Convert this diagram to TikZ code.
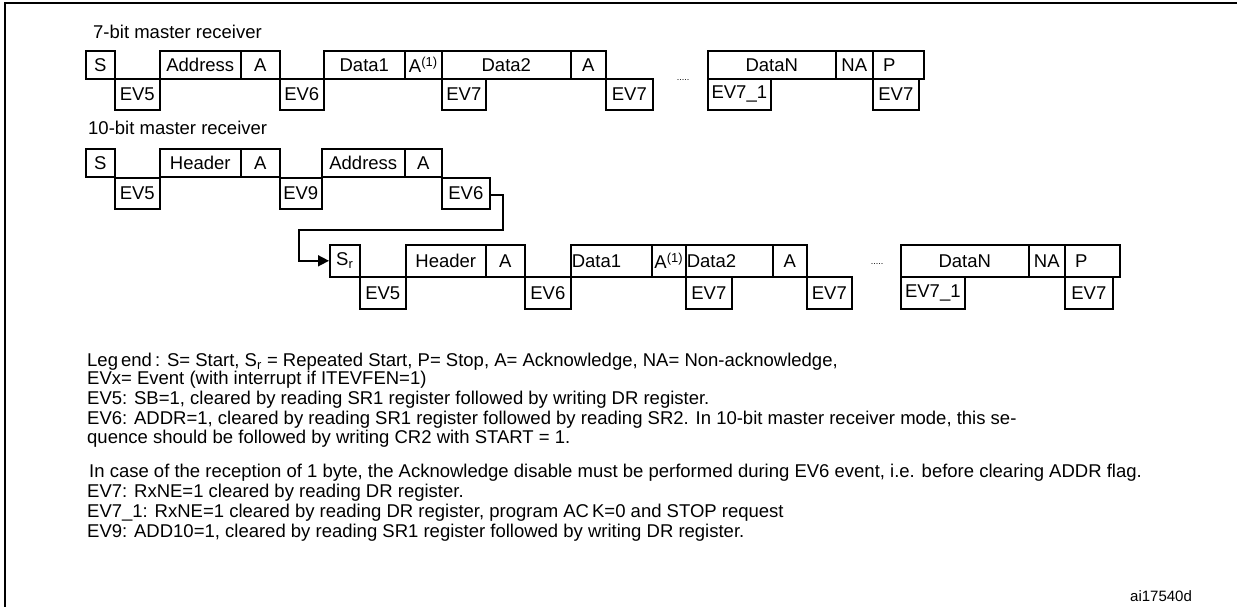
\documentclass[tikz,border=0pt]{standalone}
\usepackage{fontspec}
\setmainfont{Liberation Sans}
\usetikzlibrary{arrows.meta}

\begin{document}
\begin{tikzpicture}[x=1pt, y=-1pt, font=\fontsize{18.5}{20}\selectfont,
    fld/.style={draw, line width=1.6pt, anchor=north west, inner sep=0pt},
    hi/.style={fld, minimum height=28pt},
    lo/.style={fld, minimum height=31pt},
    txt/.style={anchor=west, inner sep=0pt}]
    \useasboundingbox (0,0) rectangle (1237,607);
    \draw[line width=1.6pt] (5,607) -- (5,3) -- (1237,3);
    % 7-bit master receiver
    \node[txt] (t1) at (93,32) {7-bit master receiver};
    \node[hi, minimum width=29pt] (s1) at (85,50) {S};
    \node[lo, minimum width=45pt] (ev5a) at (114,78) {EV5};
    \node[hi, minimum width=81pt] (adr1) at (159,50) {Address};
    \node[hi, minimum width=39pt] (ak1) at (240,50) {A};
    \node[lo, minimum width=44pt] (ev6a) at (279,78) {EV6};
    \node[hi, minimum width=81pt] (d1a) at (323,50) {Data1};
    \node[hi, minimum width=37pt] (ak2) at (404,50) {A\textsuperscript{(1)}};
    \node[hi, minimum width=129pt] (d2a) at (441,50) {Data2};
    \node[lo, minimum width=44pt] (ev7a) at (441,78) {EV7};
    \node[hi, minimum width=35pt] (ak3) at (570,50) {A};
    \node[lo, minimum width=47pt] (ev7b) at (605,78) {EV7};
    \node[inner sep=0pt, font=\small] (dots1) at (683,80) {.....};
    \node[hi, minimum width=128pt] (dna) at (707,50) {DataN};
    \node[hi, minimum width=37pt] (na1) at (835,50) {NA};
    \node[hi, minimum width=51pt] (p1) at (872,50) {\hspace*{-18pt}P};
    \node[lo, minimum width=63pt] (ev71a) at (707,78) {EV7\_1};
    \node[lo, minimum width=46pt] (ev7c) at (872,78) {EV7};
    % 10-bit master receiver
    \node[txt] (t2) at (88,128) {10-bit master receiver};
    \node[hi, minimum width=29pt] (s2) at (85,148) {S};
    \node[lo, minimum width=45pt] (ev5b) at (114,177) {EV5};
    \node[hi, minimum width=81pt] (hd1) at (159,148) {Header};
    \node[hi, minimum width=39pt] (ak4) at (240,148) {A};
    \node[lo, minimum width=42pt] (ev9) at (279,177) {EV9};
    \node[hi, minimum width=83pt] (adr2) at (321,148) {Address};
    \node[hi, minimum width=37pt] (ak5) at (404,148) {A};
    \node[lo, minimum width=48pt] (ev6b) at (441,177) {EV6};
    \node[hi, minimum width=30pt, minimum height=32pt] (sr) at (329,244) {S\textsubscript{r}};
    \node[lo, minimum width=46pt, minimum height=32pt] (ev5c) at (359,276) {EV5};
    \node[hi, minimum width=80pt, minimum height=32pt] (hd2) at (405,244) {Header};
    \node[hi, minimum width=39pt, minimum height=32pt] (ak6) at (485,244) {A};
    \node[lo, minimum width=46pt, minimum height=32pt] (ev6c) at (524,276) {EV6};
    \node[hi, minimum width=81pt, minimum height=32pt, align=left, text width=79pt] (d1b) at (570,244) {Data1};
    \node[hi, minimum width=34pt, minimum height=32pt] (ak7) at (651,244) {A\textsuperscript{(1)}};
    \node[hi, minimum width=87pt, minimum height=32pt, align=left, text width=85pt] (d2b) at (685,244) {Data2};
    \node[lo, minimum width=46pt, minimum height=32pt] (ev7d) at (685,276) {EV7};
    \node[hi, minimum width=34pt, minimum height=32pt] (ak8) at (772,244) {A};
    \node[lo, minimum width=45pt, minimum height=32pt] (ev7e) at (806,276) {EV7};
    \node[inner sep=0pt, font=\small] (dots2) at (877,264) {.....};
    \node[hi, minimum width=128pt, minimum height=32pt] (dnb) at (900,244) {DataN};
    \node[hi, minimum width=36pt, minimum height=32pt] (na2) at (1028,244) {NA};
    \node[hi, minimum width=55pt, minimum height=32pt] (p2) at (1064,244) {\hspace*{-22pt}P};
    \node[lo, minimum width=64pt, minimum height=32pt] (ev71b) at (900,276) {EV7\_1};
    \node[lo, minimum width=48pt, minimum height=32pt] (ev7f) at (1064,276) {EV7};
    \coordinate (bend) at (503,230);
    \draw[line width=1.6pt, -{Triangle[length=11pt, width=11pt]}]
        (ev6b.east |- 0,195) -| (bend) -- (299,230) |- (sr.west);
    % legend
    \node[txt] (l1) at (87,362) {Leg\,end\,: S= Start, S\textsubscript{r} = Repeated Start, P= Stop, A= Acknowledge, NA= Non-acknowledge,};
    \node[txt] (l2) at (87,380) {EVx= Event (with interrupt if ITEVFEN=1)};
    \node[txt] (l3) at (87,400) {EV5: SB=1, cleared by reading SR1 register followed by writing DR register.};
    \node[txt] (l4) at (87,420) {EV6: ADDR=1, cleared by reading SR1 register followed by reading SR2. In 10-bit master receiver mode, this se-};
    \node[txt] (l5) at (87,439) {quence should be followed by writing CR2 with START = 1.};
    \node[txt] (l6) at (89,473) {In case of the reception of 1 byte, the Acknowledge disable must be performed during EV6 event, i.e. before clearing ADDR flag.};
    \node[txt] (l7) at (87,493) {EV7: RxNE=1 cleared by reading DR register.};
    \node[txt] (l8) at (87,513) {EV7\_1: RxNE=1 cleared by reading DR register, program AC\,K=0 and STOP request};
    \node[txt] (l9) at (87,533) {EV9: ADD10=1, cleared by reading SR1 register followed by writing DR register.};
    \node[txt, font=\fontsize{15}{17}\selectfont] (id) at (1130,596) {ai17540d};
\end{tikzpicture}
\end{document}
